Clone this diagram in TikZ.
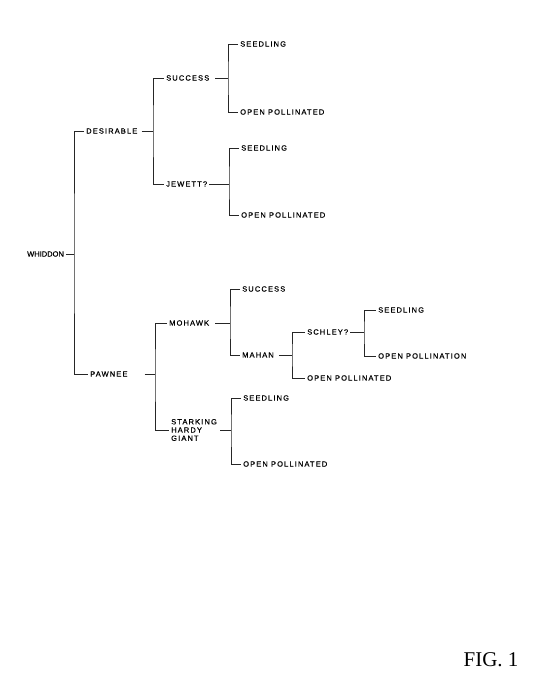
\documentclass[tikz,border=0pt]{standalone}
\usepackage{fontspec}
\newfontfamily\treefont[LetterSpace=15,FakeBold=0.6]{Liberation Sans}
\newfontfamily\rootfont[FakeBold=0.6]{Liberation Sans}
\newfontfamily\figfont{Liberation Serif}
\tikzset{
  cv/.style={anchor=west, inner xsep=2pt, inner ysep=1pt, font=\treefont\fontsize{7.5}{8.2}\selectfont},
  link/.style={line width=0.9pt, black!85},
}
\begin{document}
\begin{tikzpicture}[x=1pt,y=-1pt]
  \useasboundingbox (0,0) rectangle (555,700);
  % bracket columns
  \coordinate (b1) at (74,0);
  \coordinate (b2) at (153,0);
  \coordinate (b3) at (228,0);
  \coordinate (b4) at (229,0);
  \coordinate (b5) at (155,0);
  \coordinate (b6) at (230,0);
  \coordinate (b7) at (292,0);
  \coordinate (b8) at (364,0);
  \coordinate (b9) at (231,0);

  \node[cv, font=\rootfont\fontsize{7.5}{8.2}\selectfont] (whiddon) at (25,254) {WHIDDON};
  \node[cv] (desirable) at (84,131) {DESIRABLE};
  \node[cv] (pawnee) at (88,374) {PAWNEE};
  \node[cv] (success1) at (164,78) {SUCCESS};
  \node[cv] (jewett) at (164,184) {JEWETT?};
  \node[cv] (seed1) at (238,44) {SEEDLING};
  \node[cv] (open1) at (238,112) {OPEN POLLINATED};
  \node[cv] (seed2) at (239,148) {SEEDLING};
  \node[cv] (open2) at (239,215) {OPEN POLLINATED};
  \node[cv] (mohawk) at (167,323) {MOHAWK};
  \node[cv, align=left] (stark) at (169,430) {STARKING\\HARDY\\GIANT};
  \node[cv] (success2) at (240,289) {SUCCESS};
  \node[cv] (mahan) at (240,355) {MAHAN};
  \node[cv] (schley) at (305,332) {SCHLEY?};
  \node[cv] (open5) at (305,378) {OPEN POLLINATED};
  \node[cv] (seed3) at (376,310) {SEEDLING};
  \node[cv] (open4) at (376,356) {OPEN POLLINATION};
  \node[cv] (seed4) at (241,398) {SEEDLING};
  \node[cv] (open6) at (241,464) {OPEN POLLINATED};

  \node[font=\figfont\fontsize{21}{24}\selectfont] (fig) at (491,660) {FIG. 1};

  \draw[link] (whiddon.east) -- (whiddon.east -| b1);
  \draw[link] (desirable.west) -| (whiddon.east -| b1) |- (pawnee.west);

  \draw[link, shorten <=2pt] (desirable.east) -- (desirable.east -| b2);
  \draw[link] (success1.west) -| (desirable.east -| b2) |- (jewett.west);

  \draw[link, shorten <=4pt] (success1.east) -- (success1.east -| b3);
  \draw[link] (seed1.west) -| (success1.east -| b3) |- (open1.west);

  \draw[link] (jewett.east) -- (jewett.east -| b4);
  \draw[link] (seed2.west) -| (jewett.east -| b4) |- (open2.west);

  \draw[link, shorten <=15pt] (pawnee.east) -- (pawnee.east -| b5);
  \draw[link] (mohawk.west) -| (pawnee.east -| b5) |- (stark.west);

  \draw[link, shorten <=4pt] (mohawk.east) -- (mohawk.east -| b6);
  \draw[link] (success2.west) -| (mohawk.east -| b6) |- (mahan.west);

  \draw[link, shorten <=3pt] (mahan.east) -- (mahan.east -| b7);
  \draw[link] (schley.west) -| (mahan.east -| b7) |- (open5.west);

  \draw[link] (schley.east) -- (schley.east -| b8);
  \draw[link] (seed3.west) -| (schley.east -| b8) |- (open4.west);

  \draw[link, shorten <=1pt] (stark.east) -- (stark.east -| b9);
  \draw[link] (seed4.west) -| (stark.east -| b9) |- (open6.west);
\end{tikzpicture}
\end{document}
